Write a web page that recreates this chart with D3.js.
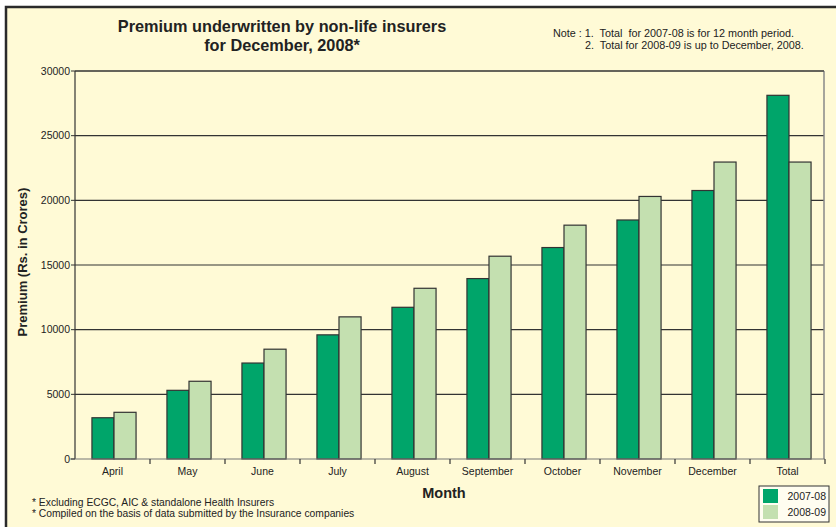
<!DOCTYPE html>
<html>
    <head>
        <meta charset="utf-8">
        <script src="https://cdn.jsdelivr.net/npm/d3@7"></script>
        <style>
            body { margin: 0; background: #fff; }
            text { font-family: "Liberation Sans", Arial, sans-serif; fill: #222; }
        </style>
        <script>
            var months = ["April", "May", "June", "July", "August", "September", "October", "November", "December", "Total"];
            var series = ["2007-08", "2008-09"];
            var prem0708 = [3190, 5310, 7420, 9600, 11730, 13950, 16350, 18480, 20760, 28120];
            var prem0809 = [3610, 6010, 8490, 10990, 13200, 15680, 18080, 20300, 22960, 22960];
            var yTicks = [0, 5000, 10000, 15000, 20000, 25000, 30000];
            var colors = ["#00a56a", "#c4e0b0"];

            function makeSVG() {
                var svg = d3.select("#fig");

                // frame
                svg.append("rect").attr("x", 6).attr("y", 7).attr("width", 840).attr("height", 530)
                   .attr("fill", "#fffad6").attr("stroke", "#2a2a2a").attr("stroke-width", 2.5);

                var xSc = d3.scaleBand().domain(months).range([75, 825]);
                var ySc = d3.scaleLinear().domain([0, 30000]).range([459, 71]);
                var grp = d3.scaleBand().domain(series).range([0, xSc.bandwidth()]).paddingOuter(0.7).paddingInner(0);

                // grid
                svg.selectAll("line.grid").data(yTicks.filter(d => d > 0)).enter().append("line")
                   .attr("x1", 75).attr("x2", 824).attr("y1", d => ySc(d)).attr("y2", d => ySc(d))
                   .attr("stroke", "#333").attr("stroke-width", 1.2);

                // bars
                var data = [];
                months.forEach((m, i) => {
                    data.push({ m: m, s: series[0], v: prem0708[i], c: colors[0] });
                    data.push({ m: m, s: series[1], v: prem0809[i], c: colors[1] });
                });
                svg.selectAll("rect.bar").data(data).enter().append("rect")
                   .attr("x", d => xSc(d.m) + grp(d.s) + 1.5)
                   .attr("y", d => ySc(d.v))
                   .attr("width", grp.bandwidth())
                   .attr("height", d => ySc(0) - ySc(d.v))
                   .attr("fill", d => d.c).attr("stroke", "#333").attr("stroke-width", 1.2);

                // axes
                svg.append("line").attr("x1", 75).attr("x2", 75).attr("y1", 71).attr("y2", 459)
                   .attr("stroke", "#333").attr("stroke-width", 1.2);
                svg.append("line").attr("x1", 824).attr("x2", 824).attr("y1", 71).attr("y2", 459)
                   .attr("stroke", "#888").attr("stroke-width", 1.5);
                svg.append("line").attr("x1", 75).attr("x2", 824).attr("y1", 71).attr("y2", 71)
                   .attr("stroke", "#333").attr("stroke-width", 1.2);
                svg.append("line").attr("x1", 70).attr("x2", 825).attr("y1", 459).attr("y2", 459)
                   .attr("stroke", "#777").attr("stroke-width", 1.2);

                // y ticks
                svg.selectAll("line.yt").data(yTicks).enter().append("line")
                   .attr("x1", 71).attr("x2", 75).attr("y1", d => ySc(d)).attr("y2", d => ySc(d))
                   .attr("stroke", "#333");
                svg.selectAll("text.yl").data(yTicks).enter().append("text")
                   .attr("x", 70).attr("y", d => ySc(d) + 3.5).attr("text-anchor", "end")
                   .attr("font-size", "10.5px").text(d => d);

                // x ticks
                svg.selectAll("line.xt").data(months.slice(1).concat(["end"])).enter().append("line")
                   .attr("x1", (d, i) => 75 + (i + 1) * xSc.step()).attr("x2", (d, i) => 75 + (i + 1) * xSc.step())
                   .attr("y1", 459).attr("y2", 464).attr("stroke", "#333").attr("stroke-width", 1.2);
                svg.selectAll("text.xl").data(months).enter().append("text")
                   .attr("x", d => xSc(d) + xSc.bandwidth() / 2).attr("y", 475)
                   .attr("text-anchor", "middle").attr("font-size", "10.5px").text(d => d);

                // titles
                svg.append("text").attr("x", 282).attr("y", 32).attr("text-anchor", "middle")
                   .attr("font-size", "16.3px").attr("font-weight", "bold").text("Premium underwritten by non-life insurers");
                svg.append("text").attr("x", 282).attr("y", 50.5).attr("text-anchor", "middle")
                   .attr("font-size", "16.3px").attr("font-weight", "bold").text("for December, 2008*");

                svg.append("text").attr("x", 553).attr("y", 37).attr("font-size", "10.8px")
                   .attr("xml:space", "preserve").text("Note : 1.  Total  for 2007-08 is for 12 month period.");
                svg.append("text").attr("x", 585).attr("y", 49).attr("font-size", "10.8px")
                   .attr("xml:space", "preserve").text("2.  Total for 2008-09 is up to December, 2008.");

                svg.append("text").attr("transform", "translate(27,262) rotate(-90)").attr("text-anchor", "middle")
                   .attr("font-size", "13px").attr("font-weight", "bold").text("Premium (Rs. in Crores)");
                svg.append("text").attr("x", 444).attr("y", 498).attr("text-anchor", "middle")
                   .attr("font-size", "14.5px").attr("font-weight", "bold").text("Month");

                svg.append("text").attr("x", 32).attr("y", 506).attr("font-size", "10.3px")
                   .text("* Excluding ECGC, AIC & standalone Health Insurers");
                svg.append("text").attr("x", 32).attr("y", 517).attr("font-size", "10.3px")
                   .text("* Compiled on the basis of data submitted by the Insurance companies");

                // legend
                var lg = svg.append("g").attr("transform", "translate(759,486)");
                lg.append("rect").attr("width", 70).attr("height", 36).attr("fill", "#fffdf0")
                  .attr("stroke", "#333").attr("stroke-width", 1);
                lg.selectAll("rect.sw").data(series).enter().append("rect")
                  .attr("x", 4).attr("y", (d, i) => 3 + i * 16).attr("width", 15).attr("height", 14)
                  .attr("fill", (d, i) => colors[i]);
                lg.selectAll("text.lt").data(series).enter().append("text")
                  .attr("x", 67).attr("y", (d, i) => 14 + i * 16).attr("text-anchor", "end")
                  .attr("font-size", "10.5px").text(d => d);
            }
        </script>
    </head>
    <body onload="makeSVG()">
        <svg id="fig" width="836" height="527"></svg>
    </body>
</html>
